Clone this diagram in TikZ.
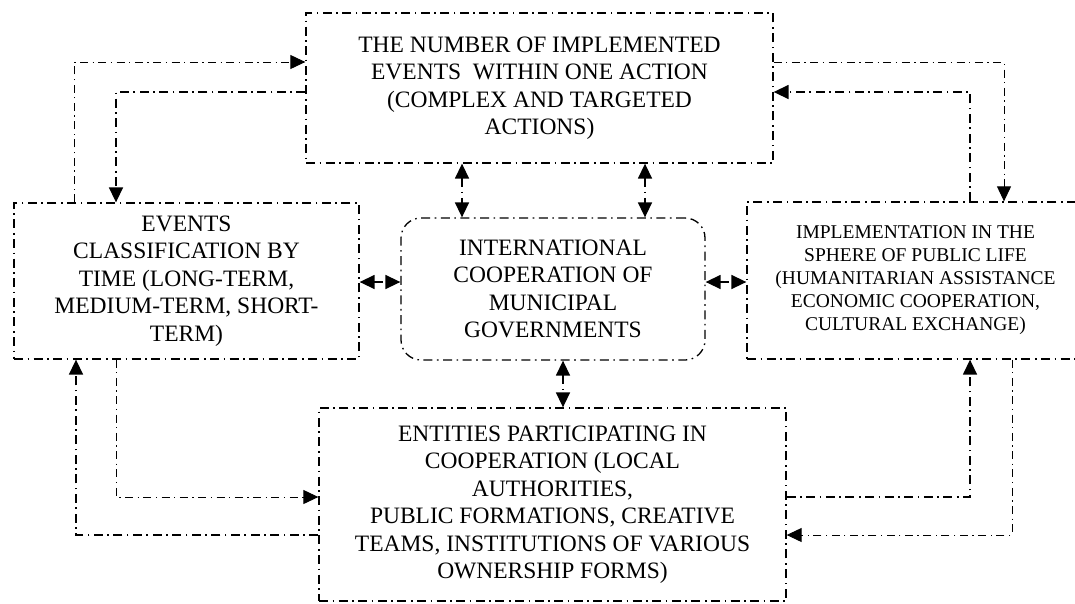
\documentclass[tikz,border=0pt]{standalone}
\usepackage{fontspec}
\setmainfont{Liberation Serif}
\usetikzlibrary{arrows.meta}
\begin{document}
\begin{tikzpicture}[x=1pt,y=-1pt,
  dd/.style={line width=1.5pt,dash pattern=on 9pt off 4.5pt on 1.6pt off 4.5pt},
  ddthin/.style={line width=1pt,dash pattern=on 8pt off 4.5pt on 1.3pt off 4.5pt},
  box/.style={draw,line width=1.3pt,dash pattern=on 9pt off 4.5pt on 1.6pt off 4.5pt,rectangle,inner sep=0pt,align=center,font=\fontsize{23.5}{27.5}\selectfont},
  tip/.style={Triangle[length=15pt,width=14pt]},
  conn/.style={dd,-{Triangle[length=15pt,width=14pt]}},
  connthin/.style={ddthin,-{Triangle[length=15pt,width=14pt]}},
  dbl/.style={dd,{Triangle[length=15pt,width=14pt]}-{Triangle[length=15pt,width=14pt]}}
]
\useasboundingbox (0,0) rectangle (1075,603);

\node[box,minimum width=467pt,minimum height=150pt] (T) at (539.5,88)
  {THE NUMBER OF IMPLEMENTED\\EVENTS\ \ WITHIN ONE ACTION\\(COMPLEX AND TARGETED\\ACTIONS)};
\node[box,minimum width=345pt,minimum height=156pt] (L) at (186.5,281)
  {EVENTS\\CLASSIFICATION BY\\TIME (LONG-TERM,\\MEDIUM-TERM, SHORT-\\TERM)};
\node[box,rounded corners=20pt,minimum width=304pt,minimum height=142pt] (C) at (553,289)
  {INTERNATIONAL\\COOPERATION OF\\MUNICIPAL\\GOVERNMENTS};
\node[box,minimum width=331pt,minimum height=157pt,font=\fontsize{19.5}{23}\selectfont] (R) at (912.5,280.5)
  {\hspace*{6pt}IMPLEMENTATION IN THE\\\hspace*{6pt}SPHERE OF PUBLIC LIFE\\\hspace*{6pt}(HUMANITARIAN ASSISTANCE\\\hspace*{6pt}ECONOMIC COOPERATION,\\\hspace*{6pt}CULTURAL EXCHANGE)};
\node[box,minimum width=467pt,minimum height=193pt] (B) at (552.5,504.5)
  {ENTITIES PARTICIPATING IN\\COOPERATION (LOCAL\\AUTHORITIES,\\PUBLIC FORMATIONS, CREATIVE\\TEAMS, INSTITUTIONS OF VARIOUS\\OWNERSHIP FORMS)};

\coordinate (x74) at (74,0);
\coordinate (x76) at (76,0);
\coordinate (x116) at (116,0);
\coordinate (x462) at (462,0);
\coordinate (x563) at (563,0);
\coordinate (x645) at (645,0);
\coordinate (x970) at (970,0);
\coordinate (x1004) at (1004,0);
\coordinate (x1012) at (1012,0);
\coordinate (y62) at (0,62);
\coordinate (y92) at (0,92);
\coordinate (y282) at (0,282);
\coordinate (y497) at (0,497);
\coordinate (y535) at (0,535);

% top connections
\draw[connthin] (L.north -| x74) |- (y62 -| T.west);
\draw[conn] (y92 -| T.west) -| (x116 |- L.north);
\draw[connthin] (y62 -| T.east) -| (x1004 |- R.north);
\draw[conn] (x970 |- R.north) |- (y92 -| T.east);

% central double arrows
\draw[dbl] (x462 |- T.south) -- (x462 |- C.north);
\draw[dbl] (x645 |- T.south) -- (x645 |- C.north);
\draw[dbl] (L.east |- y282) -- (C.west |- y282);
\draw[dbl] (C.east |- y282) -- (R.west |- y282);
\draw[dbl] (x563 |- C.south) -- (x563 |- B.north);

% bottom connections
\draw[conn] (y535 -| B.west) -| (x76 |- L.south);
\draw[connthin] (x116 |- L.south) |- (y497 -| B.west);
\draw[conn] (y497 -| B.east) -| (x970 |- R.south);
\draw[connthin] (x1012 |- R.south) |- (y535 -| B.east);
\end{tikzpicture}
\end{document}
